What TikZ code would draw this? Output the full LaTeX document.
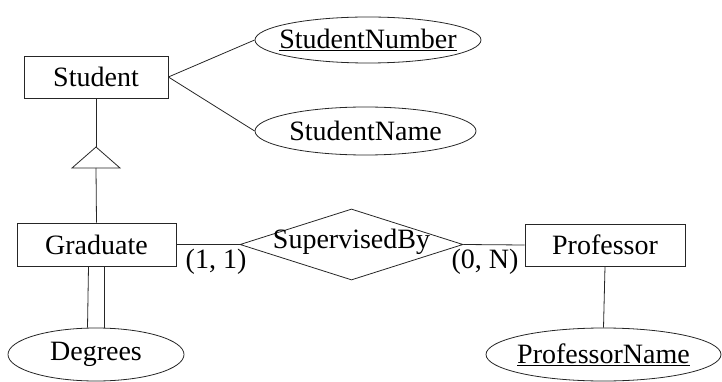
\documentclass[tikz,border=0pt]{standalone}
\usepackage{fontspec}
\setmainfont{Liberation Serif}
\usetikzlibrary{shapes.geometric}
\begin{document}
\begin{tikzpicture}[x=1pt,y=-1pt,
  every node/.style={font=\fontsize{28}{32}\selectfont},
  line/.style={draw=black!85, line width=0.8pt},
  entity/.style={line, rectangle, inner sep=0pt, minimum height=42pt},
  attr/.style={line, ellipse, inner sep=0pt},
  rel/.style={line, diamond, inner sep=0pt},
  card/.style={inner sep=0pt}]
\useasboundingbox (0,0) rectangle (722,382);
% entities
\node[entity, minimum width=144pt] (student) at (96,77) {Student};
\node[entity, minimum width=159pt, minimum height=43pt] (grad) at (96.5,244.5) {Graduate};
\node[entity, minimum width=160pt] (prof) at (605,245) {Professor};
% attributes
\node[attr, minimum width=226pt, minimum height=46pt,
      label={center:\underline{StudentNumber}}] (snum) at (368,40) {};
\node[attr, minimum width=221pt, minimum height=48pt,
      label={center:StudentName}] (sname) at (365.5,131) {};
\node[attr, minimum width=176pt, minimum height=53pt,
      label={center:Degrees}] (deg) at (96,354.5) {};
\node[attr, minimum width=235pt, minimum height=53pt,
      label={center:\underline{ProfessorName}}] (pname) at (603.5,354.5) {};
% relationship
\node[rel, minimum width=223pt, minimum height=71pt,
      label={[yshift=3pt]center:SupervisedBy}] (sup) at (351.5,244.5) {};
% cardinalities
\node[card] (c11) at (216,262) {(1, 1)};
\node[card] (c0n) at (485,262) {(0, N)};
% ISA triangle
\coordinate (isatop) at (96,147);
\coordinate (isal) at (72,168);
\coordinate (isar) at (120,168);
\coordinate (isabase) at (96,168);
\draw[line] (isatop) -- (isal) -- (isar) -- cycle;
% connectors
\draw[line] (student.east) -- (snum.west);
\draw[line] (student.east) -- (sname.west);
\draw[line] (student.south) -- (isatop);
\draw[line] (isabase) -- (grad.north);
\draw[line] (grad.east) -- (sup.west);
\draw[line] (sup.east) -- (prof.west);
\draw[line] (prof.south) -- (pname.north);
\draw[line] ([xshift=-8pt]grad.south) -- ([xshift=-8.5pt]deg.north);
\draw[line] ([xshift=7.5pt]grad.south) -- ([xshift=8pt]deg.north);
\end{tikzpicture}
\end{document}
